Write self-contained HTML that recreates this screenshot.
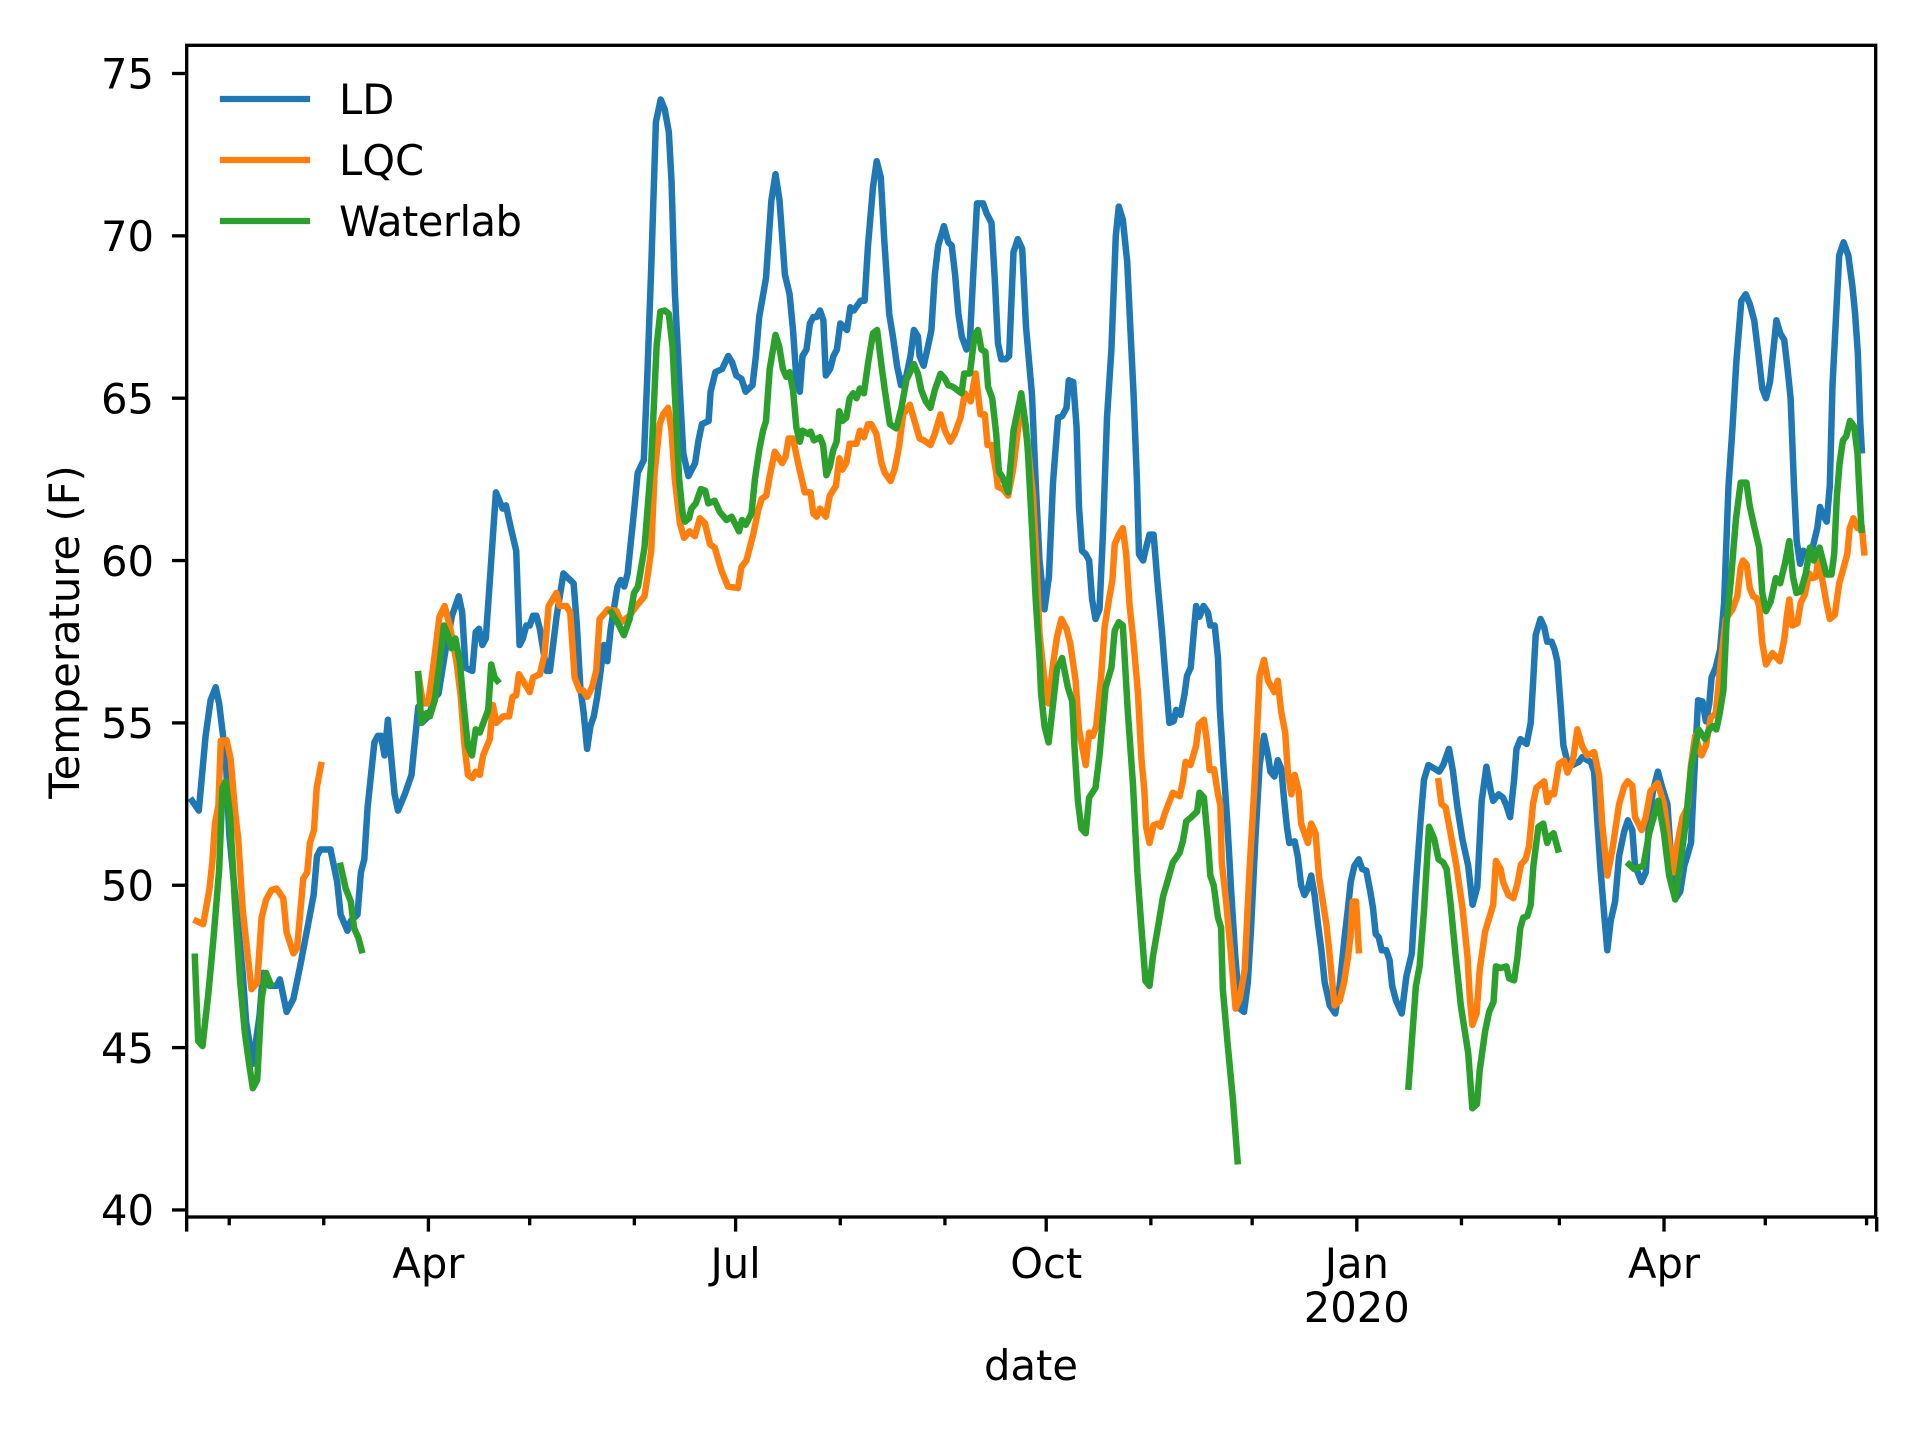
<!DOCTYPE html>
<html lang="en">
<head>
<meta charset="utf-8">
<title>Temperature chart</title>
<style>
html,body{margin:0;padding:0;background:#fff;width:1920px;height:1440px;overflow:hidden}
svg{display:block}
text{font-family:"DejaVu Sans","Liberation Sans",sans-serif;font-size:41.67px;fill:#000}
</style>
</head>
<body>
<svg id="chart" xmlns="http://www.w3.org/2000/svg" width="1920" height="1440" viewBox="0 0 1920 1440">
  <rect x="0" y="0" width="1920" height="1440" fill="#fff"/>
  <g id="series"></g>
  <g id="ticks"></g>
  <rect x="186.7" y="45.3" width="1689" height="1171.7" fill="none" stroke="#000" stroke-width="3.33"/>
  <text x="1031" y="1380" text-anchor="middle">date</text>
  <text x="0" y="0" text-anchor="middle" transform="translate(79 632) rotate(-90)">Temperature (F)</text>
  <g>
    <line x1="223" y1="99" x2="307" y2="99" stroke="#1f77b4" stroke-width="6.25" stroke-linecap="square"/>
    <text x="339" y="114">LD</text>
    <line x1="223" y1="160" x2="307" y2="160" stroke="#ff7f0e" stroke-width="6.25" stroke-linecap="square"/>
    <text x="339" y="175">LQC</text>
    <line x1="223" y1="221" x2="307" y2="221" stroke="#2ca02c" stroke-width="6.25" stroke-linecap="square"/>
    <text x="339" y="236" textLength="183">Waterlab</text>
  </g>
</svg>
<script>
// Days are counted from 1 Apr 2019; null marks a gap in the record.
const ldDays = [
-70,-68,-66,-64.5,-63,-62,-60,-59,-57,-55,-54,-52,-50,-49,-47,
-45,-44,-42,-40,-38,-36,-34,-33,-32,-29,-27,-26,-24,-23,-21,
-20,-19,-18,-16,-15,-14,-13,-12,-11,-10,-9,-7,-5,-3,-2,
0,2,3,5,7,9,10,11,13,14,15,16,17,18,20,
22,23,24,26,27,28,29,30,31,32,33,35,36,38,40,
41,43,44,45,46,47,48,49,50,52,53,54,56,57,58,
59,61,62,63.8,64.8,66,67.4,68.8,70,71.2,72,73,74.3,75.5,77,
79,80,81,83,83.6,85,87,88.8,90,91.2,92.7,94,96,97,98,
100,101.6,102.8,104,105.6,107,108,109,110,110.8,112,113,114,115,116,
117,117.7,119,120,121,122,124,125,126,128,129.2,130.2,131.7,132.8,134,
135,136.5,137.6,138.8,140,141.6,142.8,143.8,145,145.5,146.7,148,149,150,151,
152.7,154,155,156,157,158,159.4,160.4,161.3,162.5,164.3,165.3,166.8,167.8,168.7,
169.7,171,172,173.3,174.6,175.9,177,178.8,179.9,181,182.5,183.8,185,186.5,187.7,
189,189.7,191,192,192.7,193.6,194.7,195.7,196.6,197.6,198.8,199.8,201,202.3,203.6,
204.5,205.7,207,208,208.9,209.9,210.5,211.7,212.6,213.6,214.8,216,217.3,218.3,219.5,
220.8,221.5,222.8,224,224.7,225.8,227.4,228.4,229.6,230.9,231.6,232.9,233.9,234.4,235.5,
236.6,237.8,239,240.3,241.6,242.7,243.7,245,246.2,247.5,248.7,249.4,250.6,251.6,252.6,
253.4,254.3,255,256.6,257.5,258.5,259.5,260.5,261.5,262.5,263.5,264.5,265.5,267,268.6,
269.9,271.4,272.4,273.2,274.3,275.6,276.6,277.8,279,279.8,280.6,281.5,282.4,283.7,284.7,
285.5,286.6,288.3,289.7,291.3,292.5,293.9,294.9,296.2,297.9,299.4,300.6,302.3,303.5,304.8,
306.3,308,309.3,310.7,312,313.4,314.7,315.4,317,318.3,319.3,320.4,321.6,322.3,323.5,
325.3,326.5,327.2,328,329.4,330.5,331.4,332.7,333.6,334.4,335.4,336.2,337.4,338.9,340.8,
341.8,343.3,344.3,345.3,346.3,347.2,348.2,349.2,350.2,351.5,352.7,354.2,355.3,356.6,357.4,
358.6,359.3,360.6,361.6,362.7,364.2,365.5,367,368,369.5,370.8,372,374,375,376.1,
377.4,378.4,379.4,380.1,381.3,382.6,383.8,385.1,386.3,387.4,388.9,390.2,391.4,392.7,393.9,
395.1,396.2,397.4,398.3,399.3,400.4,401.6,402.6,403.5,404.5,405.3,406.3,407.3,408.5,410,
411.4,412.2,413.1,414.2,415.1,415.9,417.9,419.2,420.6,421.8,422.6,423.4,424.1,424.6
];
const ldTemps = [
52.6,52.3,54.6,55.7,56.1,55.6,53.9,51.6,49.4,47.3,45.8,44.5,46,47.3,46.9,
46.9,47.1,46.1,46.5,47.5,48.6,49.7,50.9,51.1,51.1,50.1,49.1,48.6,48.9,49.1,
50.4,50.8,52.4,54.4,54.6,54.6,54,55.1,53.9,52.8,52.3,52.8,53.4,55.5,55,
55.2,55.8,55.9,57.2,58.3,58.9,58.4,56.7,56.6,57.8,57.9,57.4,57.6,59.1,62.1,
61.6,61.7,61.2,60.3,57.4,57.6,58,58,58.3,58.3,57.9,56.6,56.6,58.3,59.6,
59.5,59.3,58,56.1,55.3,54.2,54.9,55.2,55.8,57.4,56.9,57.9,59.2,59.4,59.2,
59.6,61.6,62.7,63.1,65.6,69,73.5,74.2,73.9,73.2,71.7,68.3,65.6,63.3,62.6,
63,63.7,64.2,64.3,65.2,65.8,65.9,66.3,66.1,65.7,65.6,65.2,65.4,66.3,67.5,
68.7,71.1,71.9,71.1,68.8,68.2,67.1,65.6,65.2,66.3,66.5,67.3,67.5,67.5,67.7,
67.4,65.7,65.9,66.3,66.5,67.3,67.1,67.8,67.7,68,68,69.7,71.5,72.3,71.8,
69.9,67.6,66.9,66,65.4,65.7,66.3,67.1,66.9,66.3,66,66.6,67.1,68.8,69.7,
70.3,69.8,69.7,68.8,67.6,66.9,66.5,66.8,68.6,71,71,70.7,70.4,68.6,66.7,
66.2,66.2,66.3,69.5,69.9,69.6,67.2,65.1,62.4,60,58.5,59.5,62.4,64.4,64.45,
64.7,65.55,65.5,64.1,61.65,60.3,60.2,60,58.8,58.2,58.5,60.8,64.4,66.5,70,
70.9,70.5,69.2,67,65.1,62.4,60.2,60,60.4,60.8,60.8,59.3,57.8,56.45,55,
55.06,55.4,55.25,55.9,56.45,56.7,58.6,58.27,58.6,58.4,58,58,57,55.5,53.7,
52,49.8,47.8,46.2,46.1,47,48.7,51.5,53.7,54.6,54,53.5,53.35,53.85,53.6,
52.7,51.8,51.3,51.35,50.9,50,49.7,49.9,50.3,49.7,48.8,48,47,46.3,46.05,
46.9,48.4,49.3,50.1,50.6,50.8,50.5,50.45,49.8,49.3,48.5,48.4,48,48,47.7,
46.9,46.45,46.05,47.2,47.9,50,52,53.25,53.7,53.6,53.5,53.7,54.2,53.5,52.4,
51.4,50.6,49.4,49.95,52.6,53.65,52.9,52.6,52.8,52.7,52.46,52.1,53.25,54.2,54.5,
54.35,55,56.2,57.7,58.2,57.95,57.5,57.5,57.25,56.9,55.5,54.3,53.8,53.7,53.8,
53.95,53.85,53.8,53.5,51.9,50.5,49.2,48,48.9,49.5,50.9,51.66,52,51.7,50.6,
50.3,50.1,50.4,52,52.9,53.5,53,52.5,50.95,49.6,49.8,50.6,51.3,53.5,55.7,
55.66,55.05,55.6,56.4,56.7,57.26,58.7,62.3,64.1,66.1,68,68.2,67.9,67.4,66.4,
65.3,65,65.5,66.4,67.4,67,66.8,65.9,65,62.3,60.6,59.9,60.3,60.2,60.4,
61,61.65,61.4,61.2,62.3,65.4,69.4,69.8,69.4,68.45,67.6,66.4,64.3,63.4
];
const lqcDays = [
-68.7,-66.7,-64.9,-64,-63.2,-62.2,-61.5,-59.8,-58.6,-57.3,-56.3,-55,-53.9,-52.4,-50.7,
-49.4,-48.1,-46.5,-45,-43,-42,-40,-38.9,-38.1,-37.1,-35.9,-35.1,-33.9,-33.1,-31.8,null,
-3,-1.6,-0.1,1.4,3.3,4.8,6.3,8.3,9.6,10.6,11.7,13,14,15.2,16.2,
18.2,19.1,20.1,22.1,23.9,24.9,26,26.8,28,30,31,33,34.4,35.6,37.9,
38.9,40.9,42,43.3,44.8,45.8,47,48.5,49.7,50.7,53.2,55.7,57.1,59.6,61.6,
64,66,67,68.5,69.5,71,72,73,74.5,75.7,77.4,78.9,80.4,81.9,83.4,
84.8,86.8,88.7,91.7,92.7,94.2,96.2,97.7,98.7,100.1,101.1,102.6,104.8,105.8,106.7,
108,109.5,111.5,113.2,114,115,116,117.7,118.9,120.7,121.7,122.6,123.8,124.8,126.8,
127.8,129,130.2,131.2,132.7,134.2,135.2,136.9,138.1,139.4,140.6,142.6,144,145.5,146.8,
148.7,150,151.7,153,154.6,155.9,157.6,158.9,160.6,162.1,163.5,164.8,165.6,166.8,168.2,
168.7,170.2,171.7,173.2,174.7,175.7,177.6,179.1,180.1,181,182.5,183.7,185,186.2,187.5,
189,190.1,191.7,192.7,194.7,195.7,196.8,197.8,199.3,200.3,201.6,202.6,203.3,204.5,205.7,
206.7,207.7,208.7,209.7,210.2,211.2,212.1,212.6,213.6,214.8,216.1,216.9,218.1,219.2,220.5,
222.5,223.5,224.3,225.7,227.4,228.2,229.7,230.6,231.4,232.7,233.9,234.6,235,236.3,237.8,
239.1,240.3,241.8,243.2,244.7,246.2,247.5,248.7,250.6,251.6,252.6,253.8,254.6,255.6,256.6,
257.8,258.5,260.5,261.5,262.8,263.8,266,267,268.4,269.9,271.2,272.4,273.1,273.8,274.8,275.6,null,
299.2,300.1,301.3,302.5,304.5,306.3,307.8,308.5,309.2,310.5,311.4,313,315.4,316.2,317.6,
318.3,319.9,321.4,322.6,323.6,325,326,327.2,328.2,330.5,331.4,332.4,333.4,334.9,336.4,
337.4,339,340.3,341.8,343.3,345.3,346.8,347.7,349.2,350.7,352.7,354.2,355.2,356.6,357.4,
359.4,360.6,362,364.1,366,367.5,369,370,371.5,373,374,375.2,377.1,378.4,379.8,
381.3,382.8,384.3,386.3,387.7,388.7,389.4,390.5,391.4,392.4,393.4,394.2,395.1,396.2,398.1,
400.3,401.6,402.4,403.1,404,405.5,406.5,407.7,409,410,411,411.7,412.9,414.1,415.1,
416.6,417.9,419,420.3,421,422.1,423.3,424.6,425.3
];
const lqcTemps = [
48.9,48.8,49.85,50.7,51.9,52.45,54.45,54.47,53.9,52.3,51.4,49.25,48.2,46.8,47,
49,49.55,49.85,49.9,49.6,48.55,47.9,48.07,49,50.2,50.4,51.3,51.7,53,53.7,null,
56.5,55.6,55.6,56.7,58.27,58.6,58,56.9,55.8,54.4,53.4,53.3,53.5,53.4,54,
54.5,55.55,55,55.2,55.2,55.8,55.85,56.5,56.3,55.95,56.4,56.5,57.1,58.6,59,
58.6,58.6,58.4,56.4,56,56,55.8,56.1,56.6,58.2,58.5,58.45,58.1,58.3,58.6,
58.9,60.3,62.7,64.2,64.5,64.7,64,62.5,61.15,60.7,60.9,60.75,61.3,61.15,60.5,
60.4,59.7,59.2,59.15,59.8,60,60.8,61.55,61.9,62,62.6,63.35,63,63.2,63.76,
63.76,63,62.1,62.1,61.45,61.35,61.6,61.35,62,62.3,63.15,62.8,63,63.6,63.6,
64,63.8,64.2,64.2,63.9,63,62.7,62.45,62.8,63.5,64.5,64.8,64.3,63.76,63.7,
63.56,63.9,64.5,64,63.66,63.9,64.4,65.15,64.9,65.76,64.5,64.5,63.56,63.56,62.7,
62.27,62.2,62,62.8,64.1,64.9,63.5,62,60,57.75,56.3,55.6,56.8,57.65,58.2,
57.9,57.45,56.3,54.8,53.7,54.7,54.6,54.9,56.45,57.95,58.8,59.4,60.5,60.8,61,
60.2,58.6,57.65,56.5,55.9,53.9,52.9,51.8,51.3,51.85,51.9,51.8,52.2,52.5,52.85,
52.74,53.2,53.8,53.7,54.3,54.95,55.1,54.45,53.55,53.57,52.8,52.46,50.7,49.5,47.8,
46.2,46.5,47.4,50.4,53.1,56.45,56.94,56.3,55.95,56.3,55.34,54.7,53.46,52.8,53.4,
52.9,51.9,51.3,51.9,51.6,50.25,48.8,47.8,46.3,46.44,47,47.8,48.4,49.5,49.5,48,null,
53.2,52.5,52.4,51.76,50.6,49.3,47.8,46.5,45.7,46.06,47.4,48.57,49.4,50.75,50.5,
50.1,49.7,49.6,50.06,50.64,50.8,51.2,52.5,53,53.2,52.56,52.83,52.8,53.74,53.84,
53.47,53.84,54.8,54.27,54,54.1,53.36,51.9,50.3,51.1,52.5,53.04,53.2,53.07,52.1,
51.7,52.1,52.9,53.15,52.5,51.3,50.4,51.3,52.1,52.4,53.7,54.6,54,54.3,55.15,
55.3,56.85,58.2,58.5,58.9,59.8,60,59.87,59.15,58.9,58.85,58.6,57.46,56.8,57.15,
56.9,57.56,58.3,58.8,58,58.07,58.7,58.95,59.6,59.46,59.5,60.1,59.4,58.7,58.2,
58.33,59.3,59.7,60.2,61,61.3,61,61.05,60.25
];
const waterlabDays = [
-69.2,-68.2,-66.9,-65.2,-63.7,-62,-61,-60,-58.8,-57.3,-55.8,-54.4,-53.1,-52,-50.7,-49.4,-48.1,-46.7,null,
-26,-24.5,-23,-22,-20.8,-19.8,null,
-3,-2.1,-0.6,0.4,1.9,3.3,4.6,5.8,6.8,8,9.3,10.3,11.7,12.9,14,15.2,17.7,18.6,19.6,20.4,null,
54.2,56.2,57.9,59.6,60.9,62.1,64,66,67.6,68.7,70,71.2,72.3,73.3,74.3,
75.3,76,77.2,77.9,79.2,80.7,82,82.9,84.8,86.3,88.3,89.8,90.8,92,92.9,
94,95.7,96.7,98,99.1,100,101.1,102.8,103.9,105,106,107,108,109,110,
110.8,112.5,113.2,114.2,116,116.9,117.9,118.9,119.9,120.9,121.7,122.6,123.8,124.8,125.8,
126.8,127.8,129,130.2,131.7,132.9,134.2,135.2,136.7,138.6,140.1,141.6,143.8,145,146,
147.3,148.7,150,151.7,153,154,155.4,157.9,158.7,160.4,161.8,162.8,163.8,165,165.8,
167,168.2,169,170,171.7,173.3,175.6,177,177.6,178.8,179.9,181,181.5,182.5,183.7,
185,186.2,187.7,189.4,190.7,191.4,192.4,193.4,194.7,195.7,197.6,198.8,200.6,202.3,203.3,
204.5,205.7,207.2,208.7,210,211.2,212.4,213.6,214.6,216.4,217.6,219,220.5,222.5,223.5,
224.5,226,227.7,228.4,229.7,230.9,231.6,232.6,233.9,234.8,235.3,236.8,238.3,239.7,null,
290.3,292.5,293.6,294.9,296.4,297.9,299.2,300.6,301.6,302.8,304.3,305.8,308,309.2,310.6,
311.4,313,314.2,315.5,316.2,317.6,319.3,320.1,321.6,322.6,323.4,324.3,325.5,326.5,327.3,
328.8,330.2,331.4,332.1,333.3,334.6,null,
355.7,357.1,359.9,361.6,364.3,366,367.5,369.3,371,372.4,374,376.2,378.2,379.4,380.5,
381.5,382.5,383.6,384.5,385.8,387.3,388.7,390.4,391.4,392.7,394.2,395.1,396.2,397.6,399.1,
400.4,401.8,403.1,404.2,405.2,406.5,408,409.2,410.3,412.1,414.1,415.6,416.4,417.2,418,
419,420,421.1,422.3,423.3,423.8,424.5
];
const waterlabTemps = [
47.8,45.2,45.05,46.65,48.3,50.45,53,53.2,52.2,49.4,47.1,45.5,44.5,43.75,44,46.5,47.3,46.95,null,
50.6,49.9,49.5,48.67,48.4,48,null,
56.5,55,55.3,55.2,55.7,56.8,58,57.7,57.3,57.6,56.9,55.7,54.27,54,54.8,54.7,55.4,56.8,56.4,56.3,null,
58.4,58.06,57.7,58.2,59,59.2,60.4,63,66.6,67.66,67.7,67.6,66.6,64.5,62.5,
61.45,61.2,61.3,61.6,61.76,62.2,62.15,61.76,61.84,61.5,61.25,61.35,61.15,60.9,61.25,
61.1,61.45,62.5,63.4,64,64.3,65.9,66.95,66.6,65.9,65.66,65.8,65.25,64.1,63.66,
64,63.9,63.97,63.7,63.8,63.56,62.63,62.9,63.4,63.66,64.6,64.3,64.4,65,65.15,
65,65.3,65.15,66.07,67,67.1,66,65.25,64.2,64.07,64.7,65.56,66.05,65.76,65.25,
64.9,64.7,65.25,65.75,65.6,65.4,65.35,65.15,65.76,65.76,66.95,67.1,66.5,66.43,65.35,
65,63.9,62.74,62.58,62.1,64,65.15,64.1,63.3,61,58.8,57,55.9,54.9,54.4,
55.56,56.67,57,56.1,55.67,54.2,52.6,51.75,51.6,52.7,53,54,56.1,56.7,57.85,
58.1,58,55.3,53.1,50.4,48.7,47.05,46.9,47.8,48.9,49.65,50.14,50.7,51,51.36,
51.97,52.1,52.27,52.85,52.7,51.36,50.3,50,49,48.7,46.8,45.06,43.4,41.5,null,
43.8,46.9,47.5,49.2,51.8,51.44,50.8,50.7,50.5,49.4,47.8,46.3,44.83,43.13,43.26,
44.3,45.5,46.1,46.4,47.5,47.45,47.5,47.13,47.07,47.8,48.67,49,49.05,49.4,50.6,
51.8,51.9,51.3,51.5,51.6,51.1,null,
50.64,50.5,50.6,51.6,52.6,51.6,50.3,49.56,50.8,51.9,53.6,54.8,54.5,54.8,54.9,
54.8,55.3,56,58.08,59.4,61.26,62.4,62.4,61.67,61.05,60.4,59,58.44,58.74,59.46,
59.3,59.9,60.6,59.5,59,59.05,59.6,60.4,60,60.4,59.57,59.57,60.2,62,63,
63.7,63.83,64.3,64.13,63.3,62.3,60.95
];
const yTickValues = [40,45,50,55,60,65,70,75];
const xMajorDays = [-71.6,0,91,183,275,366,429];
const xMajorLabels = ["","Apr","Jul","Oct","Jan","Apr",""];
const xYearDay = 275;
const xYearLabel = "2020";
const xMinorDays = [-59,-31,30,61,122,153,214,244,306,335,396,426];

const svgNS = "http://www.w3.org/2000/svg";
function xScale(day){ return 428.4 + 3.376 * day; }
function yScale(temp){ return 73.5 + (75 - temp) * 32.47; }

const seriesGroup = document.getElementById("series");
const tickGroup = document.getElementById("ticks");

function drawSeries(name, color, days, temps){
  let pts = [];
  let seg = 0;
  function flush(){
    if(!pts.length) return;
    seg++;
    const line = document.createElementNS(svgNS, "polyline");
    
    
    line.setAttribute("points", pts.join(" "));
    line.setAttribute("fill", "none");
    line.setAttribute("stroke", color);
    line.setAttribute("stroke-width", "6.5");
    line.setAttribute("stroke-linejoin", "round");
    line.setAttribute("stroke-linecap", "square");
    seriesGroup.appendChild(line);
    pts = [];
  }
  for(let i = 0; i < temps.length; i++){
    if(temps[i] === null || days[i] === null){ flush(); continue; }
    pts.push(xScale(days[i]).toFixed(1) + "," + yScale(temps[i]).toFixed(1));
  }
  flush();
}
drawSeries("ld", "#1f77b4", ldDays, ldTemps);
drawSeries("lqc", "#ff7f0e", lqcDays, lqcTemps);
drawSeries("waterlab", "#2ca02c", waterlabDays, waterlabTemps);

function addTick(x1, y1, x2, y2, name){
  const t = document.createElementNS(svgNS, "line");
  
  
  t.setAttribute("x1", x1); t.setAttribute("y1", y1);
  t.setAttribute("x2", x2); t.setAttribute("y2", y2);
  t.setAttribute("stroke", "#000");
  t.setAttribute("stroke-width", "3.33");
  tickGroup.appendChild(t);
}
function addLabel(x, y, anchor, str, name){
  const t = document.createElementNS(svgNS, "text");
  
  
  t.setAttribute("x", x); t.setAttribute("y", y);
  t.setAttribute("text-anchor", anchor);
  t.textContent = str;
  tickGroup.appendChild(t);
}
yTickValues.forEach(function(v){
  const y = yScale(v);
  addTick(186.7, y, 172, y, "y-tick-" + v);
  addLabel(154, y + 15.2, "end", String(v), "y-tick-label-" + v);
});
xMajorDays.forEach(function(d, i){
  const x = xScale(d);
  addTick(x, 1217, x, 1231.6, "x-major-tick-" + i);
  if(xMajorLabels[i]) addLabel(x, 1278, "middle", xMajorLabels[i], "x-tick-label-" + xMajorLabels[i].toLowerCase() + "-" + i);
});
xMinorDays.forEach(function(d, i){
  const x = xScale(d);
  addTick(x, 1217, x, 1225.3, "x-minor-tick-" + i);
});
addLabel(xScale(xYearDay), 1322, "middle", xYearLabel, "x-tick-label-year");
</script>
</body>
</html>
